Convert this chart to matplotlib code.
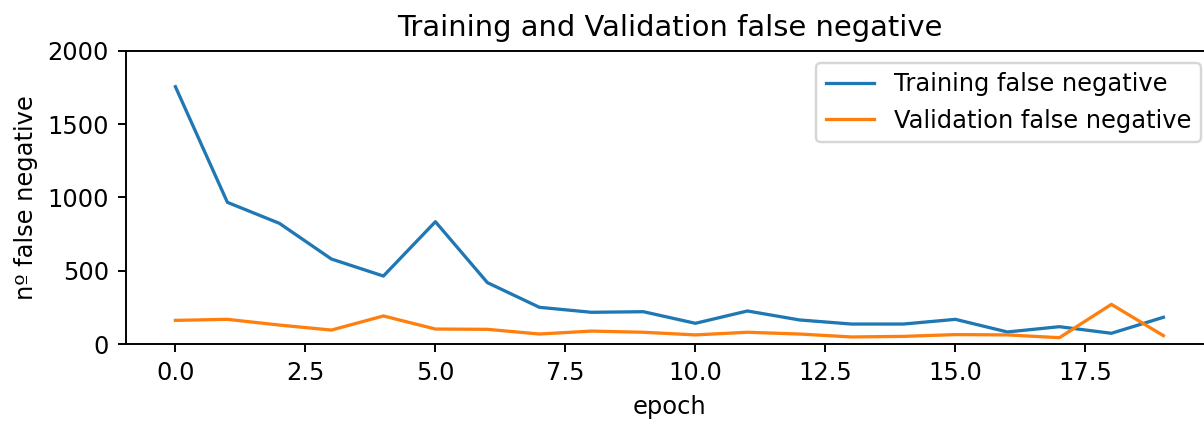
import matplotlib
matplotlib.use("Agg")
import matplotlib.pyplot as plt

epochs = list(range(20))
train_fn = [1755, 967, 824, 581, 465, 835, 420, 252, 218, 222, 143, 227, 166, 138, 138, 170, 84, 120, 75, 184]
val_fn = [163, 170, 131, 97, 193, 104, 102, 70, 90, 82, 64, 82, 70, 50, 54, 66, 64, 45, 272, 59]

DPI = 174
fig = plt.figure(figsize=(1204 / DPI, 421 / DPI), dpi=DPI)
ax = fig.add_axes([126 / 1204, (421 - 344.3) / 421, 1086.8 / 1204, 293.6 / 421])

ax.plot(epochs, train_fn, label="Training false negative", lw=1.35)
ax.plot(epochs, val_fn, label="Validation false negative", lw=1.35)
ax.set_ylim(0, 2000)
ax.set_title("Training and Validation false negative")
ax.set_xlabel("epoch")
ax.set_ylabel("nº false negative")
ax.legend(loc="upper right")
ax.spines["right"].set_visible(False)

fig.savefig("out.png", dpi=DPI)
